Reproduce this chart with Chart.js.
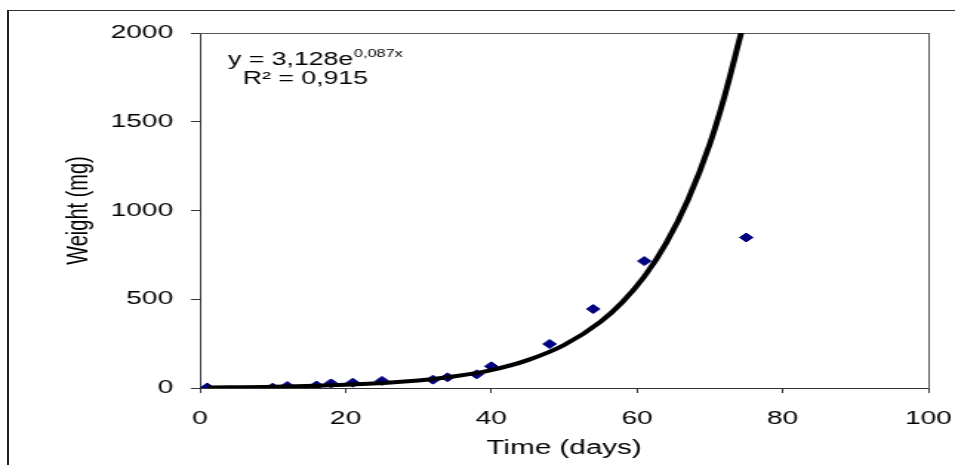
<!DOCTYPE html>
<html lang="en">
<head>
<meta charset="UTF-8">
<title>Weight vs time</title>
<script src="https://cdn.jsdelivr.net/npm/chart.js@4.4.1/dist/chart.umd.min.js"></script>
<style>
  html, body { margin: 0; padding: 0; background: #fff; overflow: hidden; }
  #frame { position: absolute; left: 7px; top: 10px; width: 960px; height: 470px;
           border-left: 2px solid #222; border-top: 1px solid #333; }
  /* the original picture is stretched sideways, so the chart is drawn narrow and scaled */
  #wrap { position: absolute; left: 0; top: 0; width: 645px; height: 465px;
          transform: scaleX(1.4806); transform-origin: 0 0; }
</style>
</head>
<body>
<div id="frame"></div>
<div id="wrap"><canvas id="chart"></canvas></div>

<script>
// measured points
const days   = [1, 10, 12, 16, 18, 21, 25, 32, 34, 38, 40, 48, 54, 61, 75];
const weight = [3, 2, 11, 14, 26, 30, 40, 47, 60, 77, 122, 248, 445, 715, 848];

// trend curve
const trendDays   = [1, 10, 20, 30, 35, 40, 45, 50, 55, 58, 61, 64, 67, 70, 72, 74.3];
const trendWeight = [3, 7, 18, 42, 66, 101, 157, 242, 373, 484, 627, 816, 1060, 1375, 1640, 2000];

const xTicks = [0, 20, 40, 60, 80, 100];
const yTicks = [0, 500, 1000, 1500, 2000];

const eqMain = 'y = 3,128e';
const eqExp  = '0,087x';
const eqR2   = 'R\u00b2 = 0,915';

const FONT = '"Liberation Sans", Arial, sans-serif';

const equationLabel = {
    id: 'equationLabel',
    afterDatasetsDraw(chart) {
        const { ctx, chartArea } = chart;
        ctx.save();
        ctx.fillStyle = '#000';
        ctx.textBaseline = 'alphabetic';
        ctx.textAlign = 'left';
        ctx.font = '18px ' + FONT;
        const x1 = chartArea.left + 19;
        ctx.fillText(eqMain, x1, 65);
        const w = ctx.measureText(eqMain).width;
        ctx.font = '11px ' + FONT;
        ctx.fillText(eqExp, x1 + w + 0.5, 57);
        ctx.font = '18px ' + FONT;
        ctx.fillText(eqR2, chartArea.left + 29, 84);
        ctx.restore();
    }
};

const ctx = document.getElementById('chart').getContext('2d');
new Chart(ctx, {
    type: 'scatter',
    data: {
        datasets: [{
            type: 'line',
            label: 'Trend',
            data: trendDays.map((d, i) => ({ x: d, y: trendWeight[i] })),
            borderColor: '#000',
            borderWidth: 4,
            pointRadius: 0,
            fill: false,
            cubicInterpolationMode: 'monotone'
        }, {
            label: 'Weight',
            data: days.map((d, i) => ({ x: d, y: weight[i] })),
            pointStyle: 'rectRot',
            pointRadius: 4.5,
            pointBorderWidth: 1,
            backgroundColor: '#000080',
            borderColor: '#000080'
        }]
    },
    options: {
        responsive: true,
        maintainAspectRatio: false,
        animation: false,
        layout: { padding: { top: 33, right: 18, bottom: 0, left: 0 } },
        plugins: {
            legend: { display: false },
            tooltip: { enabled: false }
        },
        scales: {
            x: {
                type: 'linear', position: 'bottom', min: 0, max: 100,
                afterBuildTicks: s => { s.ticks = xTicks.map(v => ({ value: v })); },
                afterFit: s => { s.height = 77; s.paddingLeft = 0; s.paddingRight = 0; },
                grid: { display: true, drawOnChartArea: false, tickLength: 5, color: '#333' },
                border: { display: true, color: '#333', width: 1 },
                ticks: { color: '#000', font: { family: FONT, size: 19 }, padding: 14,
                         maxRotation: 0, callback: v => String(v) },
                title: { display: true, text: 'Time (days)', color: '#000',
                         font: { family: FONT, size: 20 }, padding: { top: 0, bottom: 5 } }
            },
            y: {
                type: 'linear', position: 'left', min: 0, max: 2000,
                afterBuildTicks: s => { s.ticks = yTicks.map(v => ({ value: v })); },
                afterFit: s => { s.width = 135; },
                grid: { display: true, drawOnChartArea: false, tickLength: 6, color: '#333' },
                border: { display: true, color: '#333', width: 1 },
                ticks: { color: '#000', font: { family: FONT, size: 19 }, padding: 12,
                         callback: v => String(v) },
                title: { display: true, text: 'Weight (mg)', color: '#000',
                         font: { family: FONT, size: 20 }, padding: { top: 41, bottom: 0 } }
            },
            xTop: {
                type: 'linear', position: 'top', min: 0, max: 100,
                ticks: { display: false }, grid: { display: false, drawTicks: false },
                border: { display: true, color: '#555', width: 1 }
            },
            yRight: {
                type: 'linear', position: 'right', min: 0, max: 2000,
                ticks: { display: false }, grid: { display: false, drawTicks: false },
                border: { display: true, color: '#555', width: 1 }
            }
        }
    },
    plugins: [equationLabel]
});
</script>
</body>
</html>
